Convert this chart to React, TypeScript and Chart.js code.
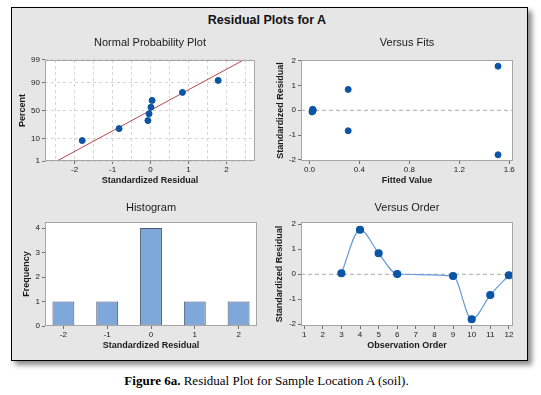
import React, { useEffect, useRef } from 'react';
import { Chart, registerables } from 'chart.js';

Chart.register(...registerables);

// ---------- data ----------
// Normal probability plot (sorted standardized residuals vs. percent)
const normResiduals = [-1.8, -0.83, -0.07, -0.04, 0.01, 0.04, 0.84, 1.78];
const normPercents = [8.3, 20.2, 32.1, 44.0, 56.0, 67.9, 79.8, 91.7];
const normPercentTicks = [1, 10, 50, 90, 99];
const normResidTicks = [-2.5, -2, -1.5, -1, -0.5, 0, 0.5, 1, 1.5, 2, 2.5];

// Versus fits
const fittedValues = [0.025, 1.51, 0.31, 0.03, 0.02, 1.51, 0.31, 0.028];
const fitsResiduals = [0.04, 1.78, 0.84, 0.01, -0.07, -1.8, -0.83, -0.04];
const fitsTicks = [0, 0.4, 0.8, 1.2, 1.6];
const residTicks = [-2, -1, 0, 1, 2];

// Histogram
const histBins = [-2, -1, 0, 1, 2];
const histCounts = [1, 1, 4, 1, 1];
const freqTicks = [0, 1, 2, 3, 4];

// Versus order
const observationOrder = [3, 4, 5, 6, 9, 10, 11, 12];
const orderResiduals = [0.04, 1.78, 0.84, 0.01, -0.07, -1.8, -0.83, -0.04];
const orderTicks = [1, 2, 3, 4, 5, 6, 7, 8, 9, 10, 11, 12];

// ---------- styles ----------
const FONT = '"Liberation Sans", Arial, sans-serif';
const TEXT = '#1a1a1a';
const BLUE = '#0b55a6';
const LINE_BLUE = '#6b9bd6';
const RED = '#b8474a';
const GRID = '#d4d4d4';
const TICK_COLOR = '#707070';
const REF = '#a8a8a8';
const FRAME_BG = '#e6e6e6';

const TICK_FONT = { family: FONT, size: 8 };
const AXIS_TITLE_FONT = { family: FONT, size: 9, weight: 'bold' as const };
const PLOT_TITLE_FONT = { family: FONT, size: 11, weight: 'normal' as const };

// inverse standard normal CDF (probability scale of the normal plot)
function normInv(p: number): number {
  const a = [-3.969683028665376e1, 2.209460984245205e2, -2.759285104469687e2, 1.38357751867269e2, -3.066479806614716e1, 2.506628277459239];
  const b = [-5.447609879822406e1, 1.615858368580409e2, -1.556989798598866e2, 6.680131188771972e1, -1.328068155288572e1];
  const c = [-7.784894002430293e-3, -3.223964580411365e-1, -2.400758277161838, -2.549732539343734, 4.374664141464968, 2.938163982698783];
  const d = [7.784695709041462e-3, 3.224671290700398e-1, 2.445134137142996, 3.754408661907416];
  const pl = 0.02425;
  if (p < pl) {
    const q = Math.sqrt(-2 * Math.log(p));
    return (((((c[0] * q + c[1]) * q + c[2]) * q + c[3]) * q + c[4]) * q + c[5]) / ((((d[0] * q + d[1]) * q + d[2]) * q + d[3]) * q + 1);
  }
  if (p <= 1 - pl) {
    const q = p - 0.5;
    const r = q * q;
    return ((((((a[0] * r + a[1]) * r + a[2]) * r + a[3]) * r + a[4]) * r + a[5]) * q) / (((((b[0] * r + b[1]) * r + b[2]) * r + b[3]) * r + b[4]) * r + 1);
  }
  const q = Math.sqrt(-2 * Math.log(1 - p));
  return -(((((c[0] * q + c[1]) * q + c[2]) * q + c[3]) * q + c[4]) * q + c[5]) / ((((d[0] * q + d[1]) * q + d[2]) * q + d[3]) * q + 1);
}

const plotFrame = {
  id: 'plotFrame',
  beforeDraw(chart: any) {
    const { ctx, chartArea: a } = chart;
    ctx.save();
    ctx.fillStyle = '#ffffff';
    ctx.fillRect(a.left, a.top, a.right - a.left, a.bottom - a.top);
    ctx.restore();
  },
  afterDraw(chart: any) {
    const { ctx, chartArea: a } = chart;
    ctx.save();
    ctx.strokeStyle = '#a6a6a6';
    ctx.lineWidth = 1;
    ctx.strokeRect(a.left + 0.5, a.top + 0.5, a.right - a.left - 1, a.bottom - a.top - 1);
    ctx.restore();
  },
};

function fixedAxis(size: number) {
  return (scale: any) => {
    if (scale.isHorizontal()) scale.height = size;
    else scale.width = size;
    scale.paddingLeft = 0;
    scale.paddingRight = 0;
    scale.paddingTop = 0;
    scale.paddingBottom = 0;
  };
}

function explicitTicks(values: number[]) {
  return (scale: any) => {
    scale.ticks = values.map((v) => ({ value: v }));
  };
}

type AxisArgs = {
  min: number;
  max: number;
  ticks: number[];
  size: number;
  title: string;
  titlePad: number;
  label: (v: number) => string;
  gridLines?: boolean;
  tickColor?: (ctx: any) => string;
};

function axis(horizontal: boolean, o: AxisArgs) {
  return {
    type: 'linear',
    min: o.min,
    max: o.max,
    offset: false,
    afterBuildTicks: explicitTicks(o.ticks),
    afterFit: fixedAxis(o.size),
    ticks: {
      autoSkip: false,
      maxRotation: 0,
      minRotation: 0,
      padding: horizontal ? 1 : 2,
      color: TEXT,
      font: TICK_FONT,
      callback: (v: number) => o.label(v),
    },
    grid: {
      display: true,
      offset: false,
      drawOnChartArea: !!o.gridLines,
      drawTicks: true,
      tickLength: 3,
      color: GRID,
      lineWidth: 1,
      tickColor: o.tickColor || TICK_COLOR,
    },
    border: { display: false, dash: [3, 3] },
    title: {
      display: true,
      text: o.title,
      color: TEXT,
      font: AXIS_TITLE_FONT,
      padding: horizontal ? { top: 0, bottom: o.titlePad } : { top: o.titlePad, bottom: 0 },
    },
  };
}

function baseOptions(title: string, padTop: number, padBottom: number, right: number) {
  return {
    animation: false,
    responsive: false,
    devicePixelRatio: 1,
    events: [],
    layout: { padding: { left: 0, top: 0, right, bottom: 0 } },
    plugins: {
      legend: { display: false },
      tooltip: { enabled: false },
      title: {
        display: true,
        text: title,
        color: TEXT,
        font: PLOT_TITLE_FONT,
        fullSize: false,
        padding: { top: padTop, bottom: padBottom },
      },
    },
  };
}

const fixed1 = (v: number) => v.toFixed(1);
const plain = (v: number) => String(v);

function normalConfig(): any {
  const yMin = normInv(normPercentTicks[0] / 100);
  const yMax = normInv(normPercentTicks[normPercentTicks.length - 1] / 100);
  const n = normResiduals.length;
  const mean = normResiduals.reduce((s, v) => s + v, 0) / n;
  const sd = Math.sqrt(normResiduals.reduce((s, v) => s + (v - mean) * (v - mean), 0) / (n - 1));
  const fitLine = [yMin - 1, yMax + 1].map((z) => ({ x: mean + sd * z, y: z }));
  const zTicks = normPercentTicks.map((p) => normInv(p / 100));
  return {
    type: 'scatter',
    data: {
      datasets: [
        {
          data: normResiduals.map((x, i) => ({ x, y: normInv(normPercents[i] / 100) })),
          backgroundColor: BLUE,
          borderColor: BLUE,
          pointRadius: 3,
          order: 0,
        },
        {
          data: fitLine,
          showLine: true,
          borderColor: RED,
          borderWidth: 1,
          pointRadius: 0,
          order: 1,
        },
      ],
    },
    options: {
      ...baseOptions('Normal Probability Plot', 8.1, 10.7, 13),
      scales: {
        x: axis(true, {
          min: -2.78, max: 2.75, ticks: normResidTicks, size: 31, title: 'Standardized Residual', titlePad: 5.6,
          label: (v) => (Number.isInteger(v) ? String(v) : ''), gridLines: true,
          tickColor: (ctx: any) => (ctx.tick && Number.isInteger(ctx.tick.value) ? TICK_COLOR : 'rgba(0,0,0,0)'),
        }),
        y: axis(false, {
          min: yMin, max: yMax, ticks: zTicks, size: 33, title: 'Percent', titlePad: 4.9,
          label: (v) => {
            const i = zTicks.findIndex((z) => Math.abs(z - v) < 1e-6);
            return i >= 0 ? String(normPercentTicks[i]) : '';
          },
          gridLines: true,
        }),
      },
    },
    plugins: [plotFrame],
  };
}

function fitsConfig(): any {
  const xMin = -0.068, xMax = 1.63;
  return {
    type: 'scatter',
    data: {
      datasets: [
        {
          data: fittedValues.map((x, i) => ({ x, y: fitsResiduals[i] })),
          backgroundColor: BLUE,
          borderColor: BLUE,
          pointRadius: 3,
          order: 0,
        },
        {
          data: [{ x: xMin, y: 0 }, { x: xMax, y: 0 }],
          showLine: true,
          borderColor: REF,
          borderWidth: 1,
          borderDash: [4, 3],
          pointRadius: 0,
          order: 1,
        },
      ],
    },
    options: {
      ...baseOptions('Versus Fits', 8.1, 10.7, 13),
      scales: {
        x: axis(true, { min: xMin, max: xMax, ticks: fitsTicks, size: 31, title: 'Fitted Value', titlePad: 5.6, label: fixed1 }),
        y: axis(false, { min: -2.05, max: 2.03, ticks: residTicks, size: 29, title: 'Standardized Residual', titlePad: 3.6, label: plain }),
      },
    },
    plugins: [plotFrame],
  };
}

function histConfig(): any {
  return {
    type: 'bar',
    data: {
      datasets: [
        {
          data: histBins.map((x, i) => ({ x, y: histCounts[i] })),
          backgroundColor: '#7ea8da',
          borderColor: '#4a5870',
          borderWidth: 1,
          borderSkipped: false,
          categoryPercentage: 1,
          barPercentage: 0.5,
        },
      ],
    },
    options: {
      ...baseOptions('Histogram', 11.7, 7.1, 11),
      scales: {
        x: axis(true, { min: -2.42, max: 2.42, ticks: histBins, size: 30, title: 'Standardized Residual', titlePad: 4.6, label: plain }),
        y: axis(false, { min: 0, max: 4.245, ticks: freqTicks, size: 33, title: 'Frequency', titlePad: 9.3, label: plain }),
      },
    },
    plugins: [plotFrame],
  };
}

function orderConfig(): any {
  const xMin = 0.83, xMax = 12.22;
  return {
    type: 'scatter',
    data: {
      datasets: [
        {
          data: observationOrder.map((x, i) => ({ x, y: orderResiduals[i] })),
          showLine: true,
          cubicInterpolationMode: 'monotone',
          borderColor: LINE_BLUE,
          borderWidth: 1.2,
          backgroundColor: BLUE,
          pointBackgroundColor: BLUE,
          pointBorderColor: BLUE,
          pointRadius: 3.5,
          order: 0,
        },
        {
          data: [{ x: xMin, y: 0 }, { x: xMax, y: 0 }],
          showLine: true,
          borderColor: REF,
          borderWidth: 1,
          borderDash: [4, 3],
          pointRadius: 0,
          order: 1,
        },
      ],
    },
    options: {
      ...baseOptions('Versus Order', 11.7, 7.1, 13),
      scales: {
        x: axis(true, { min: xMin, max: xMax, ticks: orderTicks, size: 30, title: 'Observation Order', titlePad: 4.6, label: plain }),
        y: axis(false, { min: -2.07, max: 2.09, ticks: residTicks, size: 29, title: 'Standardized Residual', titlePad: 2.6, label: plain }),
      },
    },
    plugins: [plotFrame],
  };
}

const canvasStyle = (left: number, top: number, width: number, height: number): React.CSSProperties => ({
  position: 'absolute', left, top, width, height,
});

export default function App() {
  const c1 = useRef<HTMLCanvasElement>(null);
  const c2 = useRef<HTMLCanvasElement>(null);
  const c3 = useRef<HTMLCanvasElement>(null);
  const c4 = useRef<HTMLCanvasElement>(null);

  useEffect(() => {
    const charts = [
      new Chart(c1.current as HTMLCanvasElement, normalConfig()),
      new Chart(c2.current as HTMLCanvasElement, fitsConfig()),
      new Chart(c3.current as HTMLCanvasElement, histConfig()),
      new Chart(c4.current as HTMLCanvasElement, orderConfig()),
    ];
    return () => charts.forEach((c) => c.destroy());
  }, []);

  return (
    <div style={{ position: 'absolute', left: 0, top: 0, width: 541, height: 395, background: '#ffffff', overflow: 'hidden' }}>
      <div
        style={{
          position: 'absolute', left: 11, top: 7, width: 515, height: 352,
          border: '1px solid #000', background: FRAME_BG,
          boxShadow: '4px 4px 5px rgba(0,0,0,0.45)',
        }}
      />
      <div
        style={{
          position: 'absolute', left: 167, top: 12, width: 200, lineHeight: '16px',
          textAlign: 'center', fontFamily: FONT, fontSize: 12.5, fontWeight: 'bold', color: '#111',
        }}
      >
        Residual Plots for A
      </div>
      <canvas ref={c1} width={256} height={164} style={canvasStyle(12, 28, 256, 164)} />
      <canvas ref={c2} width={254} height={164} style={canvasStyle(272, 28, 254, 164)} />
      <canvas ref={c3} width={256} height={166} style={canvasStyle(12, 190, 256, 166)} />
      <canvas ref={c4} width={254} height={166} style={canvasStyle(272, 190, 254, 166)} />
      <div
        style={{
          position: 'absolute', left: 0, top: 373, width: 533, lineHeight: '16px',
          textAlign: 'center', fontFamily: '"Liberation Serif", "Times New Roman", serif', fontSize: 13, color: '#000',
        }}
      >
        <b>Figure 6a.</b> Residual Plot for Sample Location A (soil).
      </div>
    </div>
  );
}
